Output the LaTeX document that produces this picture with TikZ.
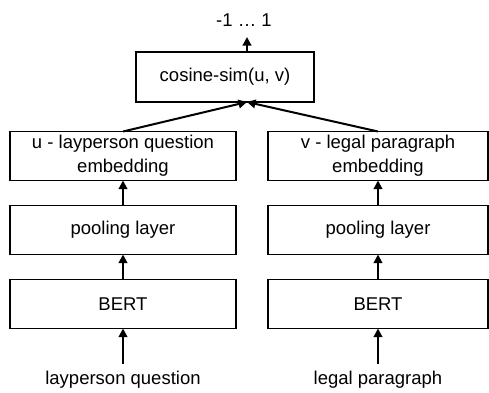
\documentclass[tikz,border=0pt]{standalone}
\usepackage{fontspec}
\setmainfont{Liberation Sans}
\usetikzlibrary{arrows.meta,calc,positioning}
\newdimen\hdim
\newdimen\wdim
\newdimen\odim
\hdim=49pt
\wdim=226pt
\odim=25pt
\tikzstyle{element}=[
  draw=black,
  font={\fontsize{18.5}{24}\selectfont},
  inner sep=0pt,
  minimum height=\hdim,
  minimum width=\wdim,
  outer sep=0pt,
  rectangle,
  align=center,
  line width=1.3pt,
]
\tikzstyle{arrow}=[
  draw=black,
  line width=2pt,
  -{Triangle[length=8.5pt,width=8.5pt]},
]
\tikzstyle{iolabel}=[
  font={\fontsize{18.5}{24}\selectfont},
  inner sep=7pt,
]
\tikzset{
  node distance=\odim,
  shorten >=0pt,
}

\begin{document}
\begin{tikzpicture}
      \useasboundingbox (0,0) rectangle (489pt,-392pt);
      %% left column
      \node (bertu) [element] at (123pt,-304pt) {BERT};
      \node (poolu) [element, above=of bertu] {pooling layer};
      \node (embu) [element, above=of poolu] {u - layperson question\\embedding};
      \node (qlabel) [iolabel, below=35pt of bertu] {layperson question};
      %% right column
      \node (bertv) [element, minimum width=220pt] at (378pt,-304pt) {BERT};
      \node (poolv) [element, minimum width=220pt, above=of bertv] {pooling layer};
      \node (embv) [element, minimum width=220pt, above=of poolv] {v - legal paragraph\\embedding};
      \node (plabel) [iolabel, below=35pt of bertv] {legal paragraph};
      %% similarity
      \node (cosine) [element, minimum width=178pt, minimum height=50pt] at (225pt,-77pt) {cosine-sim(u, v)};
      \coordinate (cosin) at ($(cosine.south)+(22pt,0)$);
      \coordinate (cosout) at ($(cosine.north)+(22pt,0)$);
      \node (range) [iolabel, inner sep=0pt] at ($(cosout)+(-3pt,32pt)$) {-1 … 1};
      \coordinate (top) at ($(cosout)+(0,15pt)$);
      %%
      \draw [arrow] (qlabel.north) -- (bertu.south);
      \draw [arrow] (bertu) -- (poolu);
      \draw [arrow] (poolu) -- (embu);
      \draw [arrow] (plabel.north) -- (bertv.south);
      \draw [arrow] (bertv) -- (poolv);
      \draw [arrow] (poolv) -- (embv);
      \draw [arrow] (embu.north) -- (cosin);
      \draw [arrow] (embv.north) -- (cosin);
      \draw [arrow] (cosout) -- (top);
    \end{tikzpicture}
\end{document}
